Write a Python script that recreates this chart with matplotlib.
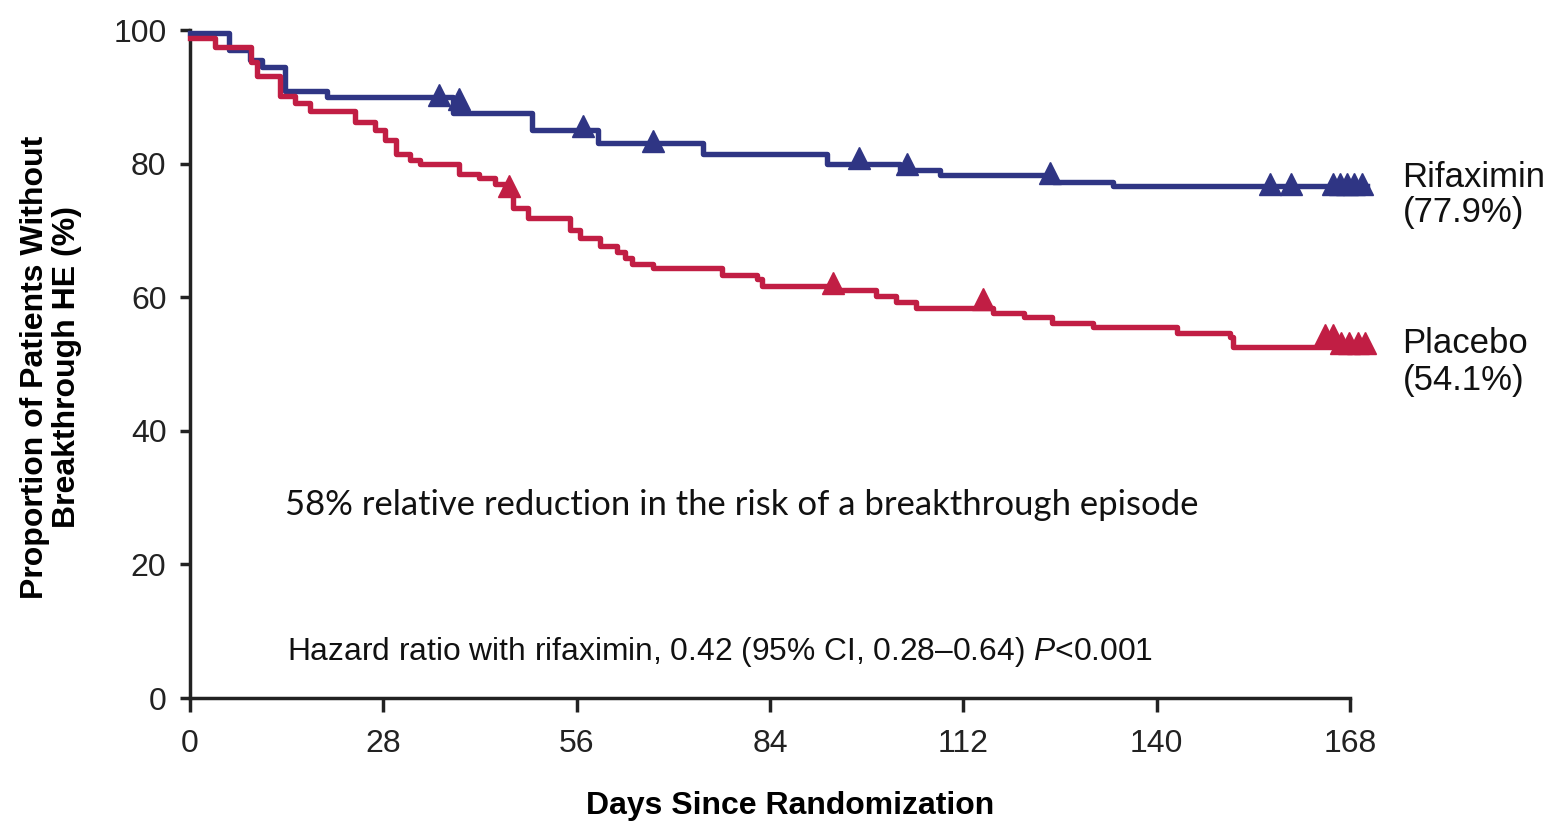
import matplotlib
matplotlib.use("Agg")
import matplotlib.pyplot as plt
import numpy as np

# ---------------- data ----------------
rif_days = [0, 5.6, 8.7, 10.4, 13.8, 19.8, 38.1, 49.5, 59.1, 74.3, 92.2, 102.8, 108.6, 125.0, 133.7, 170.5]
rif_surv = [99.6, 97.0, 95.5, 94.4, 90.9, 90.0, 87.6, 85.1, 83.1, 81.4, 79.9, 79.1, 78.3, 77.3, 76.6, 76.6]
rif_cens_days = [36.0, 38.9, 56.9, 67.1, 96.9, 103.8, 124.5, 156.4, 159.4, 165.5, 166.5, 167.5, 168.6, 169.7]
rif_cens_surv = [90.3, 89.6, 85.7, 83.4, 80.9, 80.0, 78.6, 77.0, 77.0, 77.0, 77.0, 77.0, 77.0, 77.0]

pla_days = [0, 3.6, 8.9, 9.7, 13.0, 15.2, 17.4, 23.9, 26.8, 28.2, 29.9, 31.9, 33.3, 38.9, 41.8, 44.2,
            45.6, 46.8, 49.0, 55.0, 56.5, 59.4, 61.8, 63.0, 64.0, 67.1, 77.0, 82.1, 82.8, 93.2, 99.4,
            102.3, 105.2, 116.3, 120.8, 124.9, 130.8, 142.9, 150.6, 151.1, 170.2]
pla_surv = [98.75, 97.5, 95.2, 93.1, 90.1, 89.0, 87.9, 86.2, 85.0, 83.5, 81.5, 80.6, 80.0, 78.5, 77.9, 77.0,
            75.5, 73.3, 71.9, 70.1, 68.8, 67.6, 66.7, 65.8, 65.0, 64.3, 63.3, 62.7, 61.7, 61.1, 60.2,
            59.3, 58.4, 57.6, 57.0, 56.1, 55.5, 54.7, 54.1, 52.6, 52.6]
pla_cens_days = [46.2, 93.1, 114.8, 164.4, 165.5, 166.7, 167.9, 169.1, 170.2]
pla_cens_surv = [76.6, 62.2, 59.7, 54.3, 54.3, 53.1, 53.1, 53.1, 53.1]

x_ticks = [0, 28, 56, 84, 112, 140, 168]
y_ticks = [0, 20, 40, 60, 80, 100]

rif_label = ["Rifaximin", "(77.9%)"]
pla_label = ["Placebo", "(54.1%)"]
note1 = "58% relative reduction in the risk of a breakthrough episode"
note2 = "Hazard ratio with rifaximin, 0.42 (95% CI, 0.28\u20130.64) $\\mathit{P}$<0.001"
xlabel = "Days Since Randomization"
ylabel = "Proportion of Patients Without\nBreakthrough HE (%)"

# ---------------- style ----------------
BLUE = "#2F3584"
RED = "#C11E44"
W, H, DPI = 1553, 824, 100
plt.rcParams["font.family"] = ["Liberation Sans", "DejaVu Sans"]
plt.rcParams["mathtext.fontset"] = "custom"
plt.rcParams["mathtext.it"] = "Liberation Sans:italic"
plt.rcParams["mathtext.rm"] = "Liberation Sans"

fig = plt.figure(figsize=(W / DPI, H / DPI), dpi=DPI)
fig.patch.set_facecolor("white")
ax = fig.add_axes([190 / W, 1 - 698 / H, 1160 / W, 668 / H])

ax.step(rif_days, rif_surv, where="post", color=BLUE, lw=3.9, clip_on=False, zorder=3)
ax.step(pla_days, pla_surv, where="post", color=RED, lw=3.9, clip_on=False, zorder=3)
ax.plot(rif_cens_days, rif_cens_surv, ls="none", marker="^", ms=15.5, color=BLUE,
        mec=BLUE, clip_on=False, zorder=4)
ax.plot(pla_cens_days, pla_cens_surv, ls="none", marker="^", ms=15.5, color=RED,
        mec=RED, clip_on=False, zorder=4)

ax.set_xlim(0, 168)
ax.set_ylim(0, 100)
ax.set_xticks(x_ticks)
ax.set_yticks(y_ticks)
ax.tick_params(axis="y", length=7, width=2.5, labelsize=23, pad=10, colors="#222222")
ax.tick_params(axis="x", length=10, width=2.5, labelsize=23, pad=12, colors="#222222")
for s in ["top", "right"]:
    ax.spines[s].set_visible(False)
for s in ["left", "bottom"]:
    ax.spines[s].set_linewidth(2.5)
    ax.spines[s].set_color("#222222")

# right-hand labels
for txt, yb in [(rif_label[0], 76.5), (rif_label[1], 71.3), (pla_label[0], 51.7), (pla_label[1], 46.1)]:
    ax.text(175.6, yb, txt, fontsize=25, va="baseline", ha="left", clip_on=False, color="#111111")

t1 = ax.text(13.8, 28.9, note1, fontsize=22, family=["Lato", "DejaVu Sans"],
             va="center", ha="left", color="#111111")
t2 = ax.text(14.0, 6.9, note2, fontsize=20, va="center", ha="left", color="#111111")

fig.text(51 / W, 1 - 367 / H, ylabel, rotation=90, ha="center", va="center",
         fontsize=23, fontweight="bold", linespacing=1.1, multialignment="center")
fig.text(790 / W, 1 - 806 / H, xlabel, ha="center", va="center",
         fontsize=23, fontweight="bold")

# fit annotation widths to the reference
fig.canvas.draw()
r = fig.canvas.get_renderer()
for t, target in [(t1, 910), (t2, 866)]:
    w = t.get_window_extent(r).width
    t.set_fontsize(t.get_fontsize() * target / w)

fig.savefig("out.png", dpi=DPI, facecolor="white")
